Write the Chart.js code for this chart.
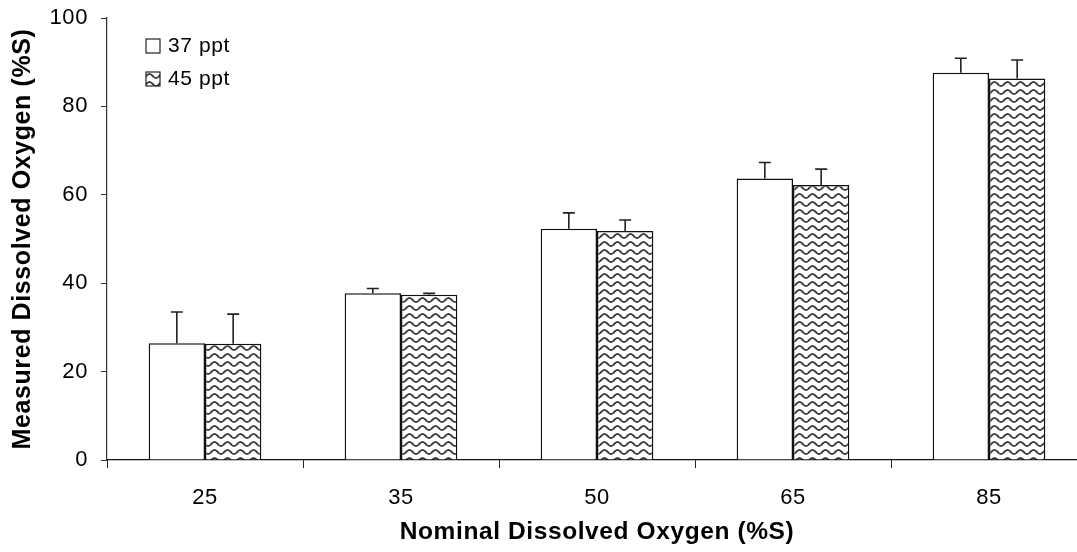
<!DOCTYPE html>
<html>
<head>
<meta charset="utf-8">
<script src="https://cdn.jsdelivr.net/npm/chart.js@4.4.1/dist/chart.umd.min.js"></script>
<style>
  html, body { margin: 0; padding: 0; background: #fff; overflow: hidden; }
  #wrap { width: 1077px; height: 552px; overflow: hidden; }
  canvas { display: block; }
</style>
</head>
<body>
<div id="wrap"><canvas id="c" width="1100" height="552"></canvas></div>
<script>
// Nominal dissolved oxygen levels (%S)
const categories = ['25', '35', '50', '65', '85'];
// Measured dissolved oxygen (%S), mean and upper error per salinity
const ppt37 = [26.4, 37.7, 52.3, 63.7, 87.6];
const ppt37Err = [7.1, 1.1, 3.6, 3.6, 3.3];
const ppt45 = [26.3, 37.4, 51.8, 62.2, 86.3];
const ppt45Err = [6.7, 0.3, 2.5, 3.6, 4.2];
const yTicks = [0, 20, 40, 60, 80, 100];

const FONT = 'Liberation Sans, Arial, sans-serif';
const LETTER_SPACING = '0.6px';

// Wavy fill used for the 45 ppt bars
function wavePattern() {
  const t = document.createElement('canvas');
  t.width = 13; t.height = 8;
  const g = t.getContext('2d');
  g.fillStyle = '#fff';
  g.fillRect(0, 0, 13, 8);
  g.strokeStyle = '#3a3a3a';
  g.lineWidth = 1.8;
  g.beginPath();
  for (let x = -1; x <= 14; x += 0.5) {
    const y = 4 + 2 * Math.cos(2 * Math.PI * x / 13);
    if (x === -1) g.moveTo(x, y); else g.lineTo(x, y);
  }
  g.stroke();
  return g.createPattern(t, 'repeat');
}

const ctx = document.getElementById('c').getContext('2d');
const wave = wavePattern();

// Slightly open letter spacing for every text on the canvas
const spacing = {
  id: 'spacing',
  beforeUpdate(chart) { chart.ctx.letterSpacing = LETTER_SPACING; },
  beforeDraw(chart) { chart.ctx.letterSpacing = LETTER_SPACING; }
};

// Upward error bars with caps
const errorBars = {
  id: 'errorBars',
  afterDatasetsDraw(chart) {
    const c = chart.ctx;
    const ys = chart.scales.y;
    c.save();
    c.strokeStyle = '#222';
    c.lineWidth = 1.6;
    chart.data.datasets.forEach((ds, di) => {
      const meta = chart.getDatasetMeta(di);
      meta.data.forEach((bar, i) => {
        const top = ys.getPixelForValue(ds.data[i] + ds.errors[i]);
        c.beginPath();
        c.moveTo(bar.x, bar.y);
        c.lineTo(bar.x, top);
        c.moveTo(bar.x - 6, top);
        c.lineTo(bar.x + 6, top);
        c.stroke();
      });
    });
    c.restore();
  }
};

// Legend inside the plot area, top-left
const insetLegend = {
  id: 'insetLegend',
  afterDraw(chart) {
    const c = chart.ctx;
    c.save();
    c.font = '21px ' + FONT;
    c.textBaseline = 'middle';
    chart.data.datasets.forEach((ds, i) => {
      const cy = 46 + i * 33;
      c.fillStyle = ds.backgroundColor;
      c.fillRect(146, cy - 7, 14, 14);
      c.strokeStyle = '#222';
      c.lineWidth = 1.2;
      c.strokeRect(146, cy - 7, 14, 14);
      c.fillStyle = '#000';
      c.fillText(ds.label, 168, cy);
    });
    c.restore();
  }
};

new Chart(ctx, {
  type: 'bar',
  data: {
    labels: categories,
    datasets: [
      { label: '37 ppt', data: ppt37, errors: ppt37Err, backgroundColor: '#ffffff',
        borderColor: '#111', borderWidth: 1.5 },
      { label: '45 ppt', data: ppt45, errors: ppt45Err, backgroundColor: wave,
        borderColor: '#111', borderWidth: 1.5 }
    ]
  },
  options: {
    responsive: false,
    devicePixelRatio: 1,
    animation: false,
    categoryPercentage: 0.575,
    barPercentage: 1.0,
    layout: { padding: { top: 18, right: 13, left: 0, bottom: 0 } },
    plugins: { legend: { display: false }, tooltip: { enabled: false } },
    scales: {
      x: {
        grid: { offset: true, drawOnChartArea: false, tickLength: 8, color: '#222', lineWidth: 1 },
        border: { color: '#111', width: 1.2 },
        ticks: { color: '#000', font: { family: FONT, size: 22 }, padding: 17 },
        title: { display: true, text: 'Nominal Dissolved Oxygen (%S)', color: '#000',
                 font: { family: FONT, size: 24.5, weight: 'bold' }, padding: { top: 4, bottom: 5 } },
        afterFit(s) { s.height = 92; }
      },
      y: {
        min: 0, max: 100,
        afterBuildTicks(s) { s.ticks = yTicks.map(v => ({ value: v })); },
        grid: { drawOnChartArea: false, tickLength: 6, color: '#333' },
        border: { color: '#333', width: 1.2 },
        ticks: { color: '#000', font: { family: FONT, size: 22 }, padding: 13 },
        title: { display: true, text: 'Measured Dissolved Oxygen (%S)', color: '#000',
                 font: { family: FONT, size: 25, weight: 'bold' }, padding: { top: 8, bottom: 4 } },
        afterFit(s) { s.width = 107; s.paddingTop = 0; s.paddingBottom = 0; }
      }
    }
  },
  plugins: [spacing, errorBars, insetLegend]
});
</script>
</body>
</html>
